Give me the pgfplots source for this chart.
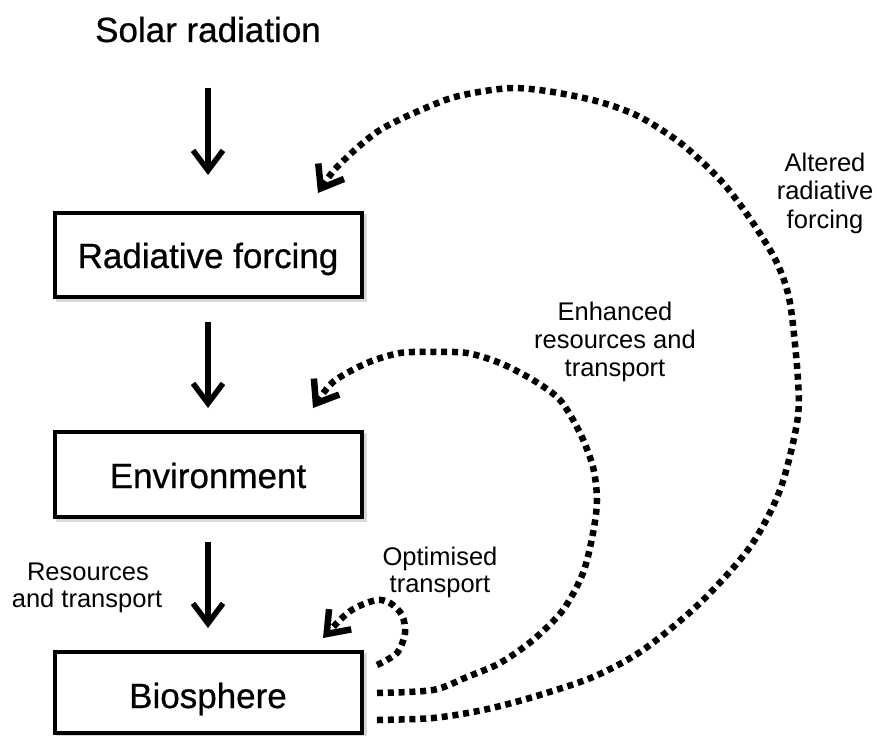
\documentclass[border=0pt]{standalone}
\usepackage{pgfplots}
\pgfplotsset{compat=1.18}
\usepackage{fontspec}
\setmainfont{Liberation Sans}
\newfontfamily\heavyfont{Liberation Sans}[FakeBold=0.6]
\usetikzlibrary{arrows.meta}
\begin{document}
\begin{tikzpicture}
\tikzset{
  big/.style={font=\heavyfont\fontsize{35bp}{42bp}\selectfont, anchor=base, inner sep=0pt},
  lab/.style={font=\fontsize{25.5bp}{29bp}\selectfont, anchor=base, inner sep=0pt},
  tip/.style={-{Straight Barb[length=20bp,width=30bp]}},
  dots/.style={line width=6.5bp, dash pattern=on 6bp off 4.8bp, line cap=butt, smooth, tension=0.5},
}
\begin{axis}[
  width=877bp, height=736bp, scale only axis,
  xmin=0, xmax=877, ymin=0, ymax=736, y dir=reverse,
  hide axis, clip=false,
]
% boxes (with faint shadow)
\draw[gray!30, line width=4bp] (axis cs:58,216) rectangle (axis cs:365,300);
\draw[gray!30, line width=4bp] (axis cs:58,435) rectangle (axis cs:365,520);
\draw[gray!30, line width=4bp] (axis cs:58,655) rectangle (axis cs:365,736);
\draw[black, line width=4.5bp, fill=white] (axis cs:55,213) rectangle (axis cs:362,297);
\draw[black, line width=4.5bp, fill=white] (axis cs:55,432) rectangle (axis cs:362,517);
\draw[black, line width=4.5bp, fill=white] (axis cs:55,652) rectangle (axis cs:362,733);

% solid arrows
\addplot[black, line width=5.5bp, tip] coordinates {(208,88) (208,175)};
\addplot[black, line width=5.5bp, tip] coordinates {(208,322) (208,408)};
\addplot[black, line width=5.5bp, tip] coordinates {(208,542) (208,628)};

% outer dotted curve: Altered radiative forcing
\addplot[black, dots, tip] coordinates {
(377,720) (433,718) (483,710) (533,697) (593,677) (643,650) (700,603)
(750,547) (780,490) (797,423) (798,380) (790,303) (777,263) (753,223)
(723,183) (683,145) (640,117) (600,102) (553,92) (513,88) (473,93)
(440,102) (380,130) (337,167) (318,193)};

% inner dotted curve: Enhanced resources and transport
\addplot[black, dots, tip] coordinates {
(377,693) (433,690) (467,677) (500,663) (533,640) (563,610) (583,573)
(593,533) (597,500) (593,467) (580,433) (560,400) (533,380) (500,363)
(467,353) (433,352) (400,353) (367,363) (333,382) (313,408)};

% small loop: Optimised transport
\addplot[black, dots, tip] coordinates {
(377,665) (397,653) (405,633) (402,615) (390,603) (377,600) (357,607)
(343,617) (323,638)};

% texts
\node[big] at (axis cs:208,42) {Solar radiation};
\node[big] at (axis cs:208,268) {Radiative forcing};
\node[big] at (axis cs:208,488) {Environment};
\node[big] at (axis cs:208,708) {Biosphere};

\node[lab] at (axis cs:88,580) {Resources};
\node[lab] at (axis cs:87,607) {and transport};
\node[lab] at (axis cs:440,565) {Optimised};
\node[lab] at (axis cs:440,592) {transport};
\node[lab] at (axis cs:615,320) {Enhanced};
\node[lab] at (axis cs:615,348) {resources and};
\node[lab] at (axis cs:615,376) {transport};
\node[lab] at (axis cs:825,172) {Altered};
\node[lab] at (axis cs:825,200) {radiative};
\node[lab] at (axis cs:825,228) {forcing};
\end{axis}
\pgfresetboundingbox
\path (current axis.south west) rectangle (current axis.north east);
\end{tikzpicture}
\end{document}
